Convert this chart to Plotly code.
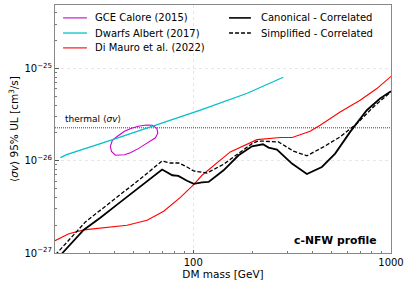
import plotly.graph_objects as go

# ---------------- data ----------------
gce_mass = [38.1, 39.0, 41.4, 44.9, 48.7, 52.8, 58.0, 62.1, 65.5, 66.2, 64.4, 60.7, 57.3, 52.8, 48.1, 44.9, 40.4, 38.6, 38.1]
gce_sv = [1.43e-26, 1.66e-26, 1.84e-26, 2.08e-26, 2.24e-26, 2.36e-26, 2.43e-26, 2.42e-26, 2.24e-26, 1.98e-26,
          1.77e-26, 1.62e-26, 1.51e-26, 1.35e-26, 1.22e-26, 1.16e-26, 1.145e-26, 1.26e-26, 1.43e-26]

dwarf_mass = [21.3, 22.9, 39.5, 86.0, 108.6, 187.6, 285.0]
dwarf_sv = [1.08e-26, 1.165e-26, 1.705e-26, 2.99e-26, 3.52e-26, 5.37e-26, 8.01e-26]

dimauro_mass = [20.0, 23.5, 28.0, 33.9, 46.3, 58.4, 70.9, 86.1, 100.5, 110.8, 126.8, 153.9, 210.0, 275.4, 316.6,
                390.0, 438.4, 553.0, 698.0, 848.0, 1000.0]
dimauro_sv = [1.36e-27, 1.62e-27, 1.78e-27, 1.87e-27, 2.0e-27, 2.26e-27, 2.83e-27, 4.01e-27, 5.51e-27, 6.95e-27,
              8.91e-27, 1.243e-26, 1.69e-26, 1.78e-26, 1.78e-26, 2.08e-26, 2.42e-26, 3.37e-26, 4.51e-26, 6.04e-26, 8.2e-26]

canon_mass = [20.0, 21.8, 28.0, 33.9, 41.2, 53.0, 69.6, 78.4, 84.1, 93.0, 100.7, 110.8, 119.6, 142.4, 169.6, 198.2,
              225.2, 240.4, 265.0, 315.5, 375.6, 447.3, 522.0, 621.5, 754.6, 881.0, 1000.0]
canon_sv = [8.1e-28, 1.0e-27, 1.79e-27, 2.41e-27, 3.34e-27, 5.09e-27, 8.01e-27, 6.95e-27, 6.83e-27, 6.06e-27,
            5.62e-27, 5.83e-27, 5.88e-27, 7.87e-27, 1.145e-26, 1.43e-26, 1.505e-26, 1.387e-26, 1.32e-26, 9.3e-27,
            7.18e-27, 8.55e-27, 1.194e-26, 2.05e-26, 3.52e-26, 4.71e-26, 5.65e-26]

simp_mass = [20.0, 20.5, 28.5, 41.2, 54.1, 69.6, 76.6, 84.4, 93.0, 100.5, 108.6, 117.4, 142.4, 169.6, 198.2, 213.9,
             270.0, 321.0, 375.6, 455.7, 553.0, 672.0, 815.0, 1000.0]
simp_sv = [9.7e-28, 1.0e-27, 2.17e-27, 4.01e-27, 6.37e-27, 9.92e-27, 9.44e-27, 9.44e-27, 8.55e-27, 7.73e-27,
           7.58e-27, 7.36e-27, 9.14e-27, 1.194e-26, 1.53e-26, 1.635e-26, 1.595e-26, 1.27e-26, 1.13e-26, 1.41e-26,
           1.81e-26, 2.52e-26, 3.82e-26, 5.58e-26]

thermal_mass = [20.0, 1000.0]
thermal_sv = [2.27e-26, 2.27e-26]

y_ticks = [1e-27, 1e-26, 1e-25]
y_ticktext = ["10<sup>\u221227</sup>", "10<sup>\u221226</sup>", "10<sup>\u221225</sup>"]
x_ticks = [100, 1000]
x_ticktext = ["100", "1000"]

FONT = "DejaVu Sans"

series = [
    # name, x, y, color, width, dash, legend column, legend row
    ("GCE Calore (2015)", gce_mass, gce_sv, "#cc00cc", 1.1, "solid", 0, 0),
    ("Dwarfs Albert (2017)", dwarf_mass, dwarf_sv, "#00c0c8", 1.3, "solid", 0, 1),
    ("Di Mauro et al. (2022)", dimauro_mass, dimauro_sv, "#ff0000", 1.1, "solid", 0, 2),
    ("Canonical - Correlated", canon_mass, canon_sv, "black", 1.8, "solid", 1, 0),
    ("Simplified - Correlated", simp_mass, simp_sv, "black", 1.3, "4px,2px", 1, 1),
]

fig = go.Figure()
fig.add_trace(go.Scatter(x=thermal_mass, y=thermal_sv, mode="lines", showlegend=False, hoverinfo="skip",
                         line=dict(color="#444444", width=1, dash="1px,1px")))

# legend geometry (paper fractions of the plot area)
leg_cols = [(0.024, 0.095, 0.113), (0.518, 0.583, 0.607)]
leg_rows = [0.948, 0.887, 0.827]

for name, xs, ys, color, width, dash, col, row in series:
    fig.add_trace(go.Scatter(x=xs, y=ys, mode="lines", name=name, showlegend=False,
                             line=dict(color=color, width=width, dash=dash)))
    x0, x1, xt = leg_cols[col]
    yy = leg_rows[row]
    fig.add_shape(type="line", xref="paper", yref="paper", x0=x0, x1=x1, y0=yy, y1=yy,
                  line=dict(color=color, width=width if width < 1.5 else 1.6, dash=dash))
    fig.add_annotation(x=xt, y=yy, xref="paper", yref="paper", xanchor="left", yanchor="middle",
                       text=name, showarrow=False, font=dict(family=FONT, size=10, color="black"))

fig.add_annotation(x=0.024, y=0.540, xref="paper", yref="paper", xanchor="left", yanchor="middle",
                   text="thermal \u27e8<i>\u03c3v</i>\u27e9", showarrow=False,
                   font=dict(family=FONT, size=9, color="black"))
fig.add_annotation(x=0.962, y=0.052, xref="paper", yref="paper", xanchor="right", yanchor="middle",
                   text="<b>c-NFW profile</b>", showarrow=False,
                   font=dict(family=FONT, size=10.8, color="black"))

axis_common = dict(showline=True, mirror=True, linecolor="#888888", linewidth=1,
                   ticks="inside", ticklen=3.5, tickcolor="#555555", automargin=False,
                   showgrid=True, gridcolor="#e6e6e6", griddash="dot", gridwidth=1,
                   zeroline=False, tickfont=dict(family=FONT, size=10, color="black"))

fig.update_xaxes(type="log", range=[1.30103, 3.0], tickvals=x_ticks, ticktext=x_ticktext,
                 title=dict(text="DM mass [GeV]", font=dict(family=FONT, size=10.5, color="black"), standoff=1),
                 minor=dict(ticks="inside", ticklen=2, tickcolor="#777777", showgrid=False,
                            tickvals=[20, 30, 40, 50, 60, 70, 80, 90, 200, 300, 400, 500, 600, 700, 800, 900]),
                 **axis_common)
fig.update_yaxes(type="log", range=[-27.0, -24.314], tickvals=y_ticks, ticktext=y_ticktext,
                 title=dict(text="\u27e8<i>\u03c3v</i>\u27e9 95% UL [cm<sup>3</sup>/s]",
                            font=dict(family=FONT, size=10.5, color="black"), standoff=3),
                 minor=dict(ticks="inside", ticklen=2, tickcolor="#777777", showgrid=False,
                            tickvals=[k * 10.0 ** e for e in (-27, -26, -25) for k in range(2, 10)]),
                 **axis_common)

fig.update_layout(
    width=409, height=283,
    margin=dict(l=55, r=18, t=5, b=30, autoexpand=False),
    paper_bgcolor="white", plot_bgcolor="white",
    font=dict(family=FONT, size=10, color="black"),
    showlegend=False,
)

fig.write_html("out.html", config={"displayModeBar": False},
               post_script="document.body.style.margin='0';document.body.style.padding='0';")
